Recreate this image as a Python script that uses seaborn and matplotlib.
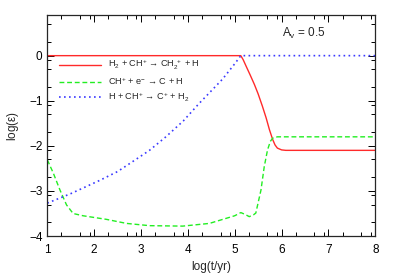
import matplotlib
matplotlib.use('Agg')
import matplotlib.pyplot as plt
import numpy as np
import pandas as pd
import seaborn as sns

# reaction rate contributions, log(eps) vs log(t/yr)
t_red = [1, 5.13, 5.18, 5.25, 5.33, 5.42, 5.5, 5.59, 5.67, 5.74, 5.81, 5.86, 5.91, 6.0, 6.09, 8]
eps_red = [0, 0, -0.09, -0.25, -0.43, -0.64, -0.85, -1.12, -1.38, -1.64, -1.86, -1.98, -2.05, -2.09, -2.1, -2.1]

t_green = [1, 1.13, 1.27, 1.41, 1.55, 1.76, 2.26, 2.69, 3.18, 3.89, 4.46, 4.81, 5.0, 5.13,
           5.22, 5.31, 5.4, 5.45, 5.56, 5.63, 5.7, 5.76, 5.81, 5.91, 6.1, 8]
eps_green = [-2.31, -2.61, -2.98, -3.31, -3.5, -3.55, -3.63, -3.72, -3.77, -3.78, -3.72, -3.61, -3.55, -3.48,
             -3.52, -3.57, -3.53, -3.49, -2.98, -2.46, -2.09, -1.9, -1.83, -1.8, -1.8, -1.8]

t_blue = [1, 1.5, 2.11, 2.5, 2.82, 3.18, 3.53, 3.9, 4.24, 4.5, 4.74, 5.0, 5.13, 8]
eps_blue = [-3.27, -3.06, -2.77, -2.57, -2.35, -2.1, -1.8, -1.45, -1.06, -0.78, -0.52, -0.18, 0, 0]

labels = [r'H$_2$ + CH$^{+}$ → CH$_2^{\ +}$ + H',
          r'CH$^{+}$ + e$^{-}$ → C + H',
          r'H + CH$^{+}$ → C$^{+}$ + H$_2$']

sns.set_style('ticks')
plt.rcParams['font.family'] = ['Liberation Sans', 'DejaVu Sans']
plt.rcParams['mathtext.fontset'] = 'custom'
plt.rcParams['mathtext.rm'] = 'Liberation Sans'
plt.rcParams['mathtext.it'] = 'Liberation Sans'

fig = plt.figure(figsize=(3.99, 2.79), dpi=100)
ax = fig.add_axes([0.1186, 0.154, 0.822, 0.792])

sns.lineplot(x=t_red, y=eps_red, ax=ax, color='#ff2a2a', lw=1.0, label=labels[0])
sns.lineplot(x=t_green, y=eps_green, ax=ax, color='#22ee22', lw=1.0, label=labels[1])
sns.lineplot(x=t_blue, y=eps_blue, ax=ax, color='#3a3aff', lw=1.2, label=labels[2])
ax.lines[1].set_dashes((3.5, 2))
ax.lines[2].set_dashes((1, 2))

ax.set_xlim(1, 8)
ax.set_ylim(-4, 0.9)
ax.set_xticks(range(1, 9))
ax.set_yticks(range(-4, 1))
minor = [n + np.log10(k) for n in range(-5, 9) for k in (2, 5, 8)]
ax.set_xticks([m for m in minor if 1 < m < 8], minor=True)
ax.set_yticks([m for m in minor if -4 < m < 0.9], minor=True)
ax.tick_params(which='both', direction='in', top=True, right=True, labelsize=8.5, width=0.7, colors='black')
ax.tick_params(which='major', length=5)
ax.tick_params(which='minor', length=3)
ax.tick_params(axis='x', pad=6)
for s in ax.spines.values():
    s.set_linewidth(0.9)

ax.set_xlabel('log(t/yr)', fontsize=8.5, labelpad=3)
ax.set_ylabel(r'log($\epsilon$)', fontsize=8.5, labelpad=6)
ax.text(6.01, 0.5, r'A$_\mathrm{v}$ = 0.5', fontsize=8.5, va='center', ha='left')

ax.legend(loc='upper left', bbox_to_anchor=(0.035, 0.805), frameon=False, fontsize=6.6,
          handlelength=4.6, handletextpad=0.8, labelspacing=0.35, borderpad=0, borderaxespad=0)

plt.savefig('out.png', dpi=100)
